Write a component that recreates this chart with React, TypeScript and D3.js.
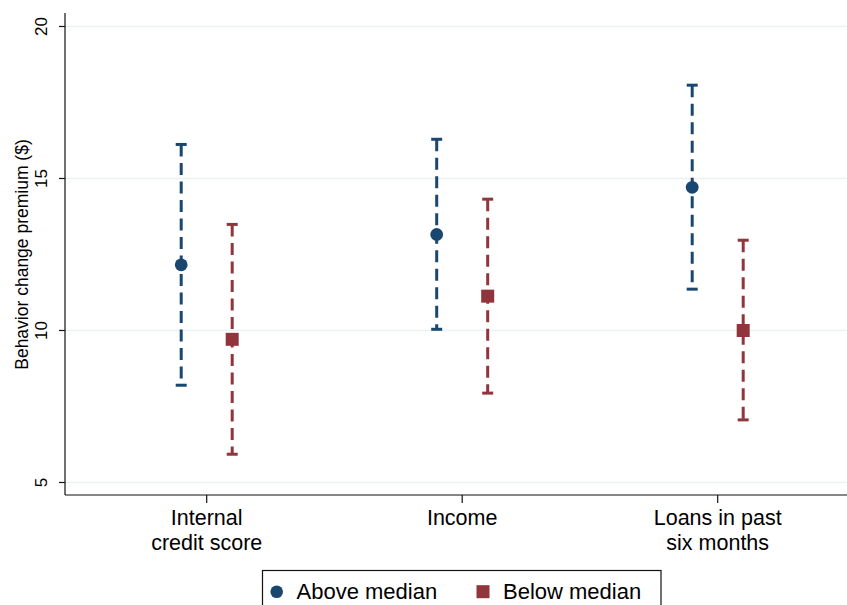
import React from "react";
import * as d3 from "d3";

// Estimated premium with 95% confidence interval, by split variable
const categories = ["Internal credit score", "Income", "Loans in past six months"];
const categoryLines = [["Internal", "credit score"], ["Income"], ["Loans in past", "six months"]];
const groups = ["Above median", "Below median"];

const aboveEstimate = [12.16, 13.16, 14.71];
const aboveLower = [8.2, 10.04, 11.36];
const aboveUpper = [16.12, 16.29, 18.07];

const belowEstimate = [9.71, 11.13, 10.0];
const belowLower = [5.93, 7.94, 7.06];
const belowUpper = [13.49, 14.32, 12.97];

const yTicks = [5, 10, 15, 20];

const W = 847;
const H = 605;
const FONT = "'Liberation Sans', Arial, Helvetica, sans-serif";
const BLUE = "#1a476f";
const RED = "#90353b";
const GRID = "#eaf2f3";

export default function App() {
  const left = 65;
  const right = W;
  const axisY = 495;
  const axisTop = 13;

  const y = d3.scaleLinear().domain([5, 20]).range([482.5, 26.5]);
  const x = d3.scalePoint<string>().domain(categories).range([206.7, 717.7]);
  const offset = d3.scalePoint<string>().domain(groups).range([-25.5, 25.5]);

  const series = [
    { name: groups[0], color: BLUE, est: aboveEstimate, lo: aboveLower, hi: aboveUpper, shape: "circle" },
    { name: groups[1], color: RED, est: belowEstimate, lo: belowLower, hi: belowUpper, shape: "square" },
  ];

  const capHalf = 5.5;
  const markerR = 6.4;
  const sq = 13;

  return (
    <svg
      width={W}
      height={H}
      style={{ position: "absolute", left: 0, top: 0, background: "#fff" }}
      fontFamily={FONT}
    >
      {/* gridlines */}
      {yTicks.map((t) => (
        <line key={"g" + t} x1={left} x2={right} y1={y(t)} y2={y(t)} stroke={GRID} strokeWidth={1.6} />
      ))}

      {/* axes */}
      <line x1={left} x2={left} y1={axisTop} y2={axisY} stroke="#111" strokeWidth={1.2} />
      <line x1={left} x2={right} y1={axisY} y2={axisY} stroke="#111" strokeWidth={1.2} />

      {/* y ticks and labels */}
      {yTicks.map((t) => (
        <g key={"t" + t}>
          <line x1={left - 6} x2={left} y1={y(t)} y2={y(t)} stroke="#111" strokeWidth={1.2} />
          <text
            transform={`translate(47,${y(t)}) rotate(-90)`}
            textAnchor="middle"
            fontSize={17}
            fill="#000"
          >
            {t}
          </text>
        </g>
      ))}
      <text
        transform={`translate(27.5,${(y(5) + y(20)) / 2}) rotate(-90)`}
        textAnchor="middle"
        fontSize={17.5}
        fill="#000"
      >
        Behavior change premium ($)
      </text>

      {/* x ticks and category labels */}
      {categories.map((c, i) => (
        <g key={c}>
          <line x1={x(c)} x2={x(c)} y1={axisY} y2={axisY + 8} stroke="#111" strokeWidth={1.2} />
          {categoryLines[i].map((ln, j) => (
            <text key={j} x={x(c)} y={525 + j * 24.5} textAnchor="middle" fontSize={21.5} fill="#000">
              {ln}
            </text>
          ))}
        </g>
      ))}

      {/* confidence intervals and point estimates */}
      {series.map((s) =>
        categories.map((c, i) => {
          const cx = (x(c) as number) + (offset(s.name) as number);
          const yHi = y(s.hi[i]);
          const yLo = y(s.lo[i]);
          const yEst = y(s.est[i]);
          return (
            <g key={s.name + c}>
              <line
                x1={cx}
                x2={cx}
                y1={yHi}
                y2={yLo}
                stroke={s.color}
                strokeWidth={3}
                strokeDasharray="12,6.5"
              />
              <line x1={cx - capHalf} x2={cx + capHalf} y1={yHi} y2={yHi} stroke={s.color} strokeWidth={3} />
              <line x1={cx - capHalf} x2={cx + capHalf} y1={yLo} y2={yLo} stroke={s.color} strokeWidth={3} />
              {s.shape === "circle" ? (
                <circle cx={cx} cy={yEst} r={markerR} fill={s.color} />
              ) : (
                <rect x={cx - sq / 2} y={yEst - sq / 2} width={sq} height={sq} fill={s.color} />
              )}
            </g>
          );
        })
      )}

      {/* legend */}
      <rect x={262.5} y={570.5} width={398.5} height={60} fill="#fff" stroke="#111" strokeWidth={1.2} />
      <circle cx={276.7} cy={591.7} r={6.3} fill={BLUE} />
      <text x={296.5} y={599} fontSize={22} fill="#000">
        {groups[0]}
      </text>
      <rect x={476.5} y={585.2} width={13} height={13} fill={RED} />
      <text x={503} y={599} fontSize={22} fill="#000">
        {groups[1]}
      </text>
    </svg>
  );
}
